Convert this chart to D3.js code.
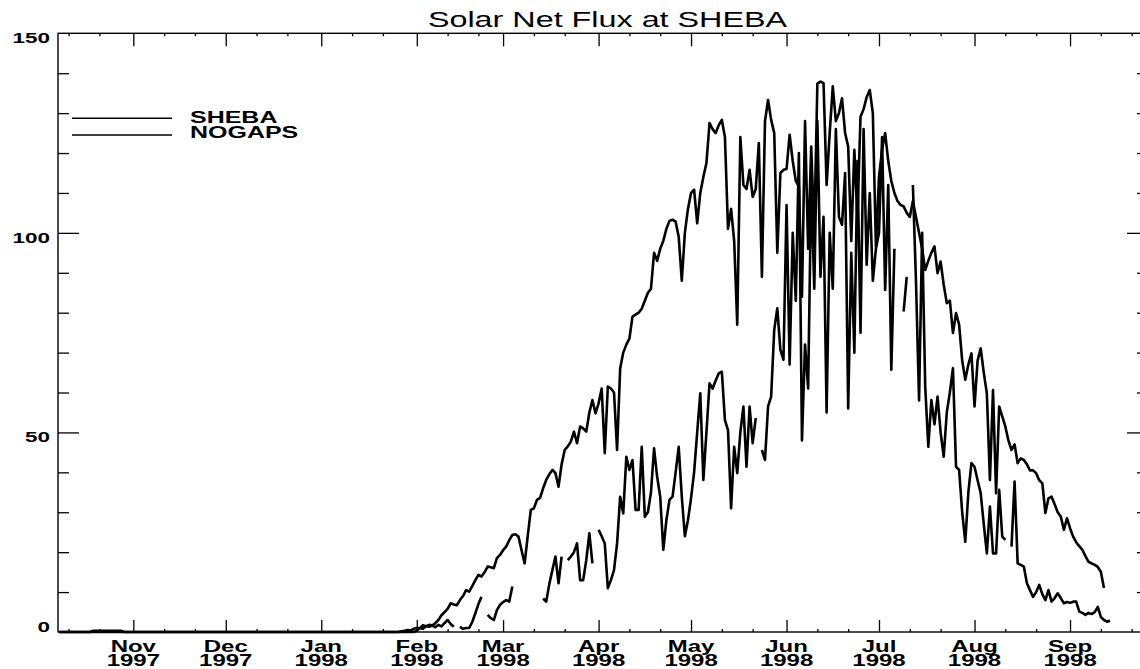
<!DOCTYPE html>
<html>
<head>
<meta charset="utf-8">
<script src="https://cdn.jsdelivr.net/npm/d3@7/dist/d3.min.js"></script>
<style>
  body { margin: 0; background: #fff; }
  text { font-family: "Liberation Sans", Arial, Helvetica, sans-serif; fill: #000; }
</style>
</head>
<body>
<svg id="chart" width="1140" height="669"></svg>
<script>
var width = 1140;
var height = 669;
var plot = {left: 58, right: 1148, top: 33.3, bottom: 632};

// ---- data (daily values, W/m2), first value is 8 Oct 1997 ----
var firstDay = new Date(1997, 9, 8);

var monthLabels = ["Nov", "Dec", "Jan", "Feb", "Mar", "Apr", "May", "Jun", "Jul", "Aug", "Sep"];
var yearLabels = ["1997", "1997", "1998", "1998", "1998", "1998", "1998", "1998", "1998", "1998", "1998"];
var yLabels = [0, 50, 100, 150];
var yMajor = [50, 100];
var yMinor = [10, 20, 30, 40, 60, 70, 80, 90, 110, 120, 130, 140];
var seriesNames = ["SHEBA", "NOGAPS"];

// SHEBA observations (gaps are null)
var sheba = [
  0, 0, 0, 0, 0, 0, 0, 0, 0, 0, 0, 0, 0, 0, 0, 0, 0, 0, 0, 0,
  0, 0, 0, 0, 0, 0, 0, 0, 0, 0, 0, 0, 0, 0, 0, 0, 0, 0, 0, 0,
  0, 0, 0, 0, 0, 0, 0, 0, 0, 0, 0, 0, 0, 0, 0, 0, 0, 0, 0, 0,
  0, 0, 0, 0, 0, 0, 0, 0, 0, 0, 0, 0, 0, 0, 0, 0, 0, 0, 0, 0,
  0, 0, 0, 0, 0, 0, 0, 0, 0, 0, 0, 0, 0, 0, 0, 0, 0, 0, 0, 0,
  0, 0, 0, 0, 0, 0, 0, 0, 0, 0, 0, 0, 0, 0, 0, 0,
  // Feb 1998
  0.3, 1.0, 0.8, 1.5, 1.3, 1.6, 1.2, 1.8, 1.4, 2.2,
  3.0, 2.0, 1.3, null, 1.3, 0.8, 1.0, 1.0, 2.5, 4.7,
  7, 8.8, null, 4.3, 3.5, 3.0, 5.5, 6.8, 7.5, 8.0,
  7.6, 11.4, null, null, null, null, null, null, null, null,
  null, 8.4, 7.6, 12, 15.5, 18.9, 12.2, 18.9, null, 18,
  18.9, 20, 22.2, 13, 13, 18, 24.7, 17.2, null, 25.6,
  24, 22.2, 11, 13, 15.5, 22.2, 33.9, 29.7, 43.9, 40.6,
  43.1, 30.6, 30.6, 46.4, 28.9, 30, 35, 46, 38.9, 33.9,
  20.6, 28, 33.1, 33.9, 40, 46.4, 33.9, 24, 28, 33.5,
  40, 50, 59.8, 38.1, 50, 62.3, 61, 63, 64.8, 65.2,
  53.1, 50.6, 31, 46.4, 39.8, 50, 56.5, 41.4, 56.5, 47.3,
  53.6, null, 45.6, 43.1, 56.5, 59, 75.7, 81.1, 70.7, 68.2,
  107, 67, 100, 83, 120, 48, 72, 61, 112, 86,
  128, 89, 104, 55, 100, 86, 126, 104, 102, 115,
  56, 95, 70, 118, 75, 126, 92, 110, 88, 96,
  100, 124, 85.7, 112, 65.7, 96, null, null, 80.3, 89,
  null, 112, 88, 58, 100, 61.5, 46.4, 58.1, 52, 59,
  50, 43.9, 55, 60, 66.1, 41.4, 40.6, 30, 22.6, 35,
  42.3, 41.4, 38, 34.8, 27, 19.7, 31.4, 19.7, 19.7, 35.6,
  23.9, 23.1, null, 21.4, 37.7, 17.2, 16.8, 16.4, 12.2, 10.5,
  8.8, 10, 11.8, 9.5, 8, 10.5, 7.6, 8.5, 9.7, 8.5,
  7.2, 7.5, 7.3, 7.6, 7.6, 5.1, 4.8, 4.3, 4.8, 4.5,
  5, 6.3, 3.8, 3, 2.6, 2.8
];

// NOGAPS analysis
var nogaps = [
  0, 0, 0, 0, 0, 0, 0, 0, 0, 0, 0, 0.3, 0.3, 0.3, 0.3, 0.3, 0.3, 0.3, 0.3, 0.3,
  0.3, 0, 0, 0, 0, 0, 0, 0, 0, 0, 0, 0, 0, 0, 0, 0, 0, 0, 0, 0,
  0, 0, 0, 0, 0, 0, 0, 0, 0, 0, 0, 0, 0, 0, 0, 0, 0, 0, 0, 0,
  0, 0, 0, 0, 0, 0, 0, 0, 0, 0, 0, 0, 0, 0, 0, 0, 0, 0, 0, 0,
  0, 0, 0, 0, 0, 0, 0, 0, 0, 0, 0, 0, 0, 0, 0, 0, 0, 0, 0, 0,
  0, 0, 0, 0, 0, 0, 0, 0, 0, 0,
  0, 0.2, 0.3, 0.5, 0.4, 0.8,
  // Feb 1998
  1.0, 0.9, 1.7, 1.4, 1.8, 1.6, 2.2, 3.0, 4.2, 5.0,
  5.8, 7.2, 6.9, 6.7, 8.0, 9.0, 10.5, 10.1, 11.5, 13.0,
  14.3, 13.9, 15.0, 16.4, 16.2, 16.0, 18.5, 19.3, 20.5, 21.4,
  23.0, 24.3, 24.5, 23.9, 20.5, 17.2, 24, 30.6, 31.0, 33.1,
  33.6, 36, 38.1, 39.5, 40.6, 39.8, 36.4, 42, 45.6, 46.5,
  47.7, 50.2, 47.3, 51.5, 51, 50.2, 55, 58.1, 54.8, 57.3,
  61, 44.8, 61.5, 61, 60, 45.6, 66, 70, 72, 73.5,
  79, 79.5, 80, 81, 83, 85, 86, 95, 93, 96,
  98, 101, 103, 103.3, 102.8, 99, 88, 100, 106, 110,
  110.8, 102.4, 110, 114, 117.5, 127.5, 126, 125, 127, 128.3,
  124, 101, 106, 98, 77, 124, 112, 111, 115.8, 109,
  111, 122.5, 89, 128, 133.3, 128.3, 125, 95, 115, 115.8,
  116, 124.6, 118, 113, 111.6, 84, 128, 96, 121.6, 100,
  137.4, 137.9, 137.5, 112, 125, 136.7, 128, 130, 133.7, 125,
  121.6, 98, 120.8, 104, 129.1, 131, 134, 135.8, 130, 96.6,
  114, 120.8, 125, 118, 113, 110, 108, 107, 106.6, 105,
  104, 108, 104, 100, 96, 90.7, 93, 95, 96.6, 89.9,
  92.8, 87, 82.4, 83, 74.9, 79.9, 77, 68, 63.2, 67,
  69.8, 56.5, 68, 71.1, 65, 59.8, 38.1, 60.6, 34.8, 56.5,
  54, 51.5, 48, 45.6, 47, 42.3, 43.5, 43.1, 42, 40.5,
  40.5, 39.8, 38, 37.3, 29.8, 33.5, 33.9, 32, 30, 28.9,
  25.6, 28.5, 26, 23.9, 22.5, 21.5, 20.6, 19, 17.6, 17.2,
  16.8, 16.3, 15.1, 11
];

var svg = d3.select("#chart");
svg.append("rect").attr("width", width).attr("height", height).attr("fill", "#fff");

var x = d3.scaleTime()
  .domain([new Date(1997, 9, 7, 13, 26), new Date(1998, 8, 26, 7, 12)])
  .range([plot.left, plot.right]);
var y = d3.scaleLinear().domain([0, 150]).range([plot.bottom, plot.top]);

var months = d3.timeMonth.range(new Date(1997, 10, 1), new Date(1998, 8, 2));
var minorDays = d3.timeDay.range(new Date(1997, 9, 8), new Date(1998, 8, 26))
  .filter(function(d) { return d.getDate() == 11 || d.getDate() == 21; });

// the two curves
var line = d3.line()
  .defined(function(d) { return d != null; })
  .x(function(d, i) { return x(d3.timeDay.offset(firstDay, i)); })
  .y(function(d) { return y(d); });

[sheba, nogaps].forEach(function(s) {
  svg.append("path")
    .datum(s)
    .attr("fill", "none")
    .attr("stroke", "#000")
    .attr("stroke-width", 2.6)
    .attr("stroke-linejoin", "round")
    .attr("d", line);
});

// frame
svg.append("rect")
  .attr("x", plot.left).attr("y", plot.top)
  .attr("width", plot.right - plot.left).attr("height", plot.bottom - plot.top)
  .attr("fill", "none").attr("stroke", "#000").attr("stroke-width", 1.4);

function noDomain(g) {
  g.select(".domain").remove();
  g.selectAll(".tick line").attr("stroke-width", 1.3);
}

// x ticks (bottom and top)
svg.append("g").attr("transform", "translate(0," + plot.bottom + ")")
  .call(d3.axisBottom(x).tickValues(months).tickSize(-12).tickFormat(""))
  .call(noDomain);
svg.append("g").attr("transform", "translate(0," + plot.bottom + ")")
  .call(d3.axisBottom(x).tickValues(minorDays).tickSize(-3).tickFormat(""))
  .call(noDomain);
svg.append("g").attr("transform", "translate(0," + plot.top + ")")
  .call(d3.axisTop(x).tickValues(months).tickSize(-13).tickFormat(""))
  .call(noDomain);
svg.append("g").attr("transform", "translate(0," + plot.top + ")")
  .call(d3.axisTop(x).tickValues(minorDays).tickSize(-3).tickFormat(""))
  .call(noDomain);

// y ticks (left and right)
svg.append("g").attr("transform", "translate(" + plot.left + ",0)")
  .call(d3.axisLeft(y).tickValues(yMajor).tickSize(-21).tickFormat(""))
  .call(noDomain);
svg.append("g").attr("transform", "translate(" + plot.left + ",0)")
  .call(d3.axisLeft(y).tickValues(yMinor).tickSize(-11).tickFormat(""))
  .call(noDomain);
svg.append("g").attr("transform", "translate(" + plot.right + ",0)")
  .call(d3.axisRight(y).tickValues(yMajor).tickSize(-21).tickFormat(""))
  .call(noDomain);
svg.append("g").attr("transform", "translate(" + plot.right + ",0)")
  .call(d3.axisRight(y).tickValues(yMinor).tickSize(-11).tickFormat(""))
  .call(noDomain);

// stretched text helper (the original lettering is wide)
function label(px, py, str, size, sx, anchor, weight) {
  return svg.append("text")
    .attr("transform", "translate(" + px + "," + py + ") scale(" + sx + ",1)")
    .attr("text-anchor", anchor)
    .style("font-size", size + "px")
    .style("font-weight", weight)
    .text(str);
}

yLabels.forEach(function(v) {
  label(50, Math.min(y(v) + 10, plot.bottom), v, 14.5, 1.55, "end", "bold");
});

// month / year pairs sit tight under each tick: one text, two lines
months.forEach(function(m, i) {
  var t = label(x(m), 652, "", 16, 1.5, "middle", "bold");
  t.append("tspan").attr("x", 0).attr("y", 0).text(monthLabels[i]);
  t.append("tspan").attr("x", 0).attr("y", 13.5).text(yearLabels[i]);
});

// title (wide lettering, same stretch as the rest)
label(607.5, 27, "Solar Net Flux at SHEBA", 22, 1.47, "middle", "normal");

// legend
var legendLineY = [118.3, 135];
var legendTextY = [123.3, 138.3];
seriesNames.forEach(function(name, i) {
  svg.append("line")
    .attr("x1", 72).attr("x2", 172)
    .attr("y1", legendLineY[i]).attr("y2", legendLineY[i])
    .attr("stroke", "#000").attr("stroke-width", 1.6);
  label(190, legendTextY[i], name, 17, 1.47, "start", "bold");
});
</script>
</body>
</html>
